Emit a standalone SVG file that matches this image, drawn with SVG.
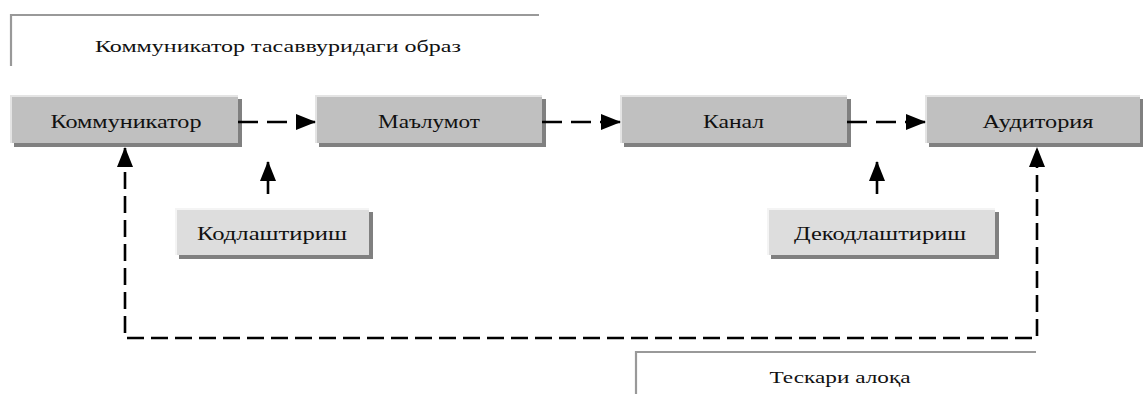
<svg xmlns="http://www.w3.org/2000/svg" width="1143" height="394" viewBox="0 0 1143 394">
<style>
.t{font-family:"Liberation Serif","Times New Roman",serif;font-size:19px;fill:#111;text-anchor:middle}
.s{font-size:17.5px}
.sh{fill:#808080}
.m{fill:#c0c0c0}
.l{fill:#dddddd}
.hm{fill:none;stroke:#e4e4e4;stroke-width:2}
.hl{fill:none;stroke:#f4f4f4;stroke-width:2}
.br{fill:none;stroke:#999;stroke-width:2.2}
.dh{fill:none;stroke:#000;stroke-width:2.6;stroke-dasharray:20 9}
.fb{fill:none;stroke:#000;stroke-width:2.6;stroke-dasharray:17 7}
.up{fill:none;stroke:#000;stroke-width:2.6}
</style>
<defs>
<marker id="ah" markerUnits="userSpaceOnUse" markerWidth="20" markerHeight="16" refX="19" refY="8" orient="auto-start-reverse" viewBox="0 0 20 16">
<path d="M0,0 L20,8 L0,16 z" fill="#000"/>
</marker>
</defs>

<g id="label-top">
<polyline class="br" points="11,66 11,15 539,15"/>
<text class="t s" x="278" y="52" textLength="366" lengthAdjust="spacingAndGlyphs">Коммуникатор тасаввуридаги образ</text>
</g>

<g id="label-bottom">
<polyline class="br" points="636,394 636,352 1036,352"/>
<text class="t s" x="840" y="383" textLength="141" lengthAdjust="spacingAndGlyphs">Тескари алоқа</text>
</g>

<g id="n-kommunikator">
<rect class="sh" x="14" y="99" width="228" height="48"/>
<rect class="m" x="10" y="95" width="228" height="48"/>
<polyline class="hm" points="11,143 11,96 238,96"/>
<text class="t" x="126" y="128" textLength="151" lengthAdjust="spacingAndGlyphs">Коммуникатор</text>
</g>

<g id="n-malumot">
<rect class="sh" x="319" y="99" width="227" height="48"/>
<rect class="m" x="315" y="95" width="227" height="48"/>
<polyline class="hm" points="316,143 316,96 542,96"/>
<text class="t" x="429" y="128" textLength="102" lengthAdjust="spacingAndGlyphs">Маълумот</text>
</g>

<g id="n-kanal">
<rect class="sh" x="624" y="99" width="227" height="48"/>
<rect class="m" x="620" y="95" width="227" height="48"/>
<polyline class="hm" points="621,143 621,96 847,96"/>
<text class="t" x="733.5" y="128" textLength="61" lengthAdjust="spacingAndGlyphs">Канал</text>
</g>

<g id="n-auditoriya">
<rect class="sh" x="929" y="99" width="214" height="48"/>
<rect class="m" x="925" y="95" width="215" height="48"/>
<polyline class="hm" points="926,143 926,96 1140,96"/>
<text class="t" x="1038" y="128" textLength="111" lengthAdjust="spacingAndGlyphs">Аудитория</text>
</g>

<g id="n-kodlashtirish">
<rect class="sh" x="179" y="212" width="194" height="47"/>
<rect class="l" x="175" y="208" width="194" height="47"/>
<polyline class="hl" points="176,255 176,209 369,209"/>
<text class="t" x="272" y="240" textLength="150" lengthAdjust="spacingAndGlyphs">Кодлаштириш</text>
</g>

<g id="n-dekodlashtirish">
<rect class="sh" x="771" y="212" width="228" height="47"/>
<rect class="l" x="767" y="208" width="228" height="47"/>
<polyline class="hl" points="768,255 768,209 995,209"/>
<text class="t" x="880" y="240" textLength="172" lengthAdjust="spacingAndGlyphs">Декодлаштириш</text>
</g>

<g id="connectors">
<line class="dh" x1="238" y1="122" x2="315" y2="122" marker-end="url(#ah)"/>
<line class="dh" x1="542" y1="122" x2="620" y2="122" marker-end="url(#ah)"/>
<line class="dh" x1="847" y1="122" x2="925" y2="122" marker-end="url(#ah)"/>
<line class="up" x1="268" y1="194" x2="268" y2="162" marker-end="url(#ah)"/>
<line class="up" x1="877" y1="194" x2="877" y2="162" marker-end="url(#ah)"/>
<path class="fb" d="M125,148 V338 H1037 V148" marker-start="url(#ah)" marker-end="url(#ah)"/>
</g>
</svg>
